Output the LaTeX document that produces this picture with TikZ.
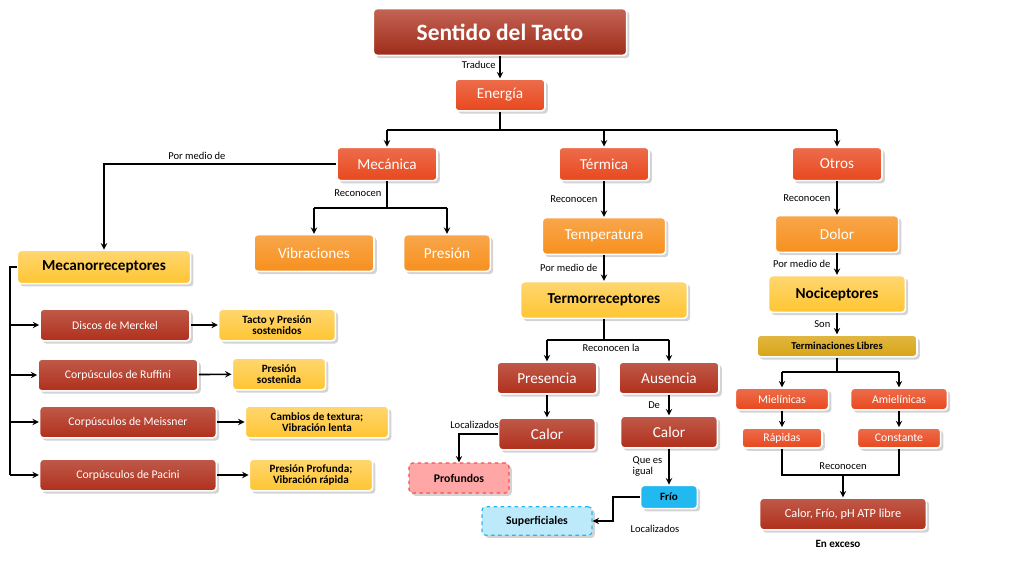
\documentclass[tikz,border=0pt]{standalone}
\usepackage{fontspec}
\setmainfont{Carlito}
\usetikzlibrary{shapes,arrows,calc,positioning,shadows}
\definecolor{rojo}{HTML}{B0301C}
\definecolor{rojoc}{HTML}{E8481E}
\definecolor{naranja}{HTML}{F7901E}
\definecolor{amarillo}{HTML}{FFC532}
\definecolor{oro}{HTML}{D9A514}
\definecolor{celeste}{HTML}{22B8F0}
\tikzset{box/.style={draw=white, rounded corners=3pt, drop shadow={opacity=0.35}, inner sep=2pt, align=center}}
\tikzstyle{rj}=[box, top color=rojo!80, bottom color=rojo, text=white, font=\fontsize{10}{11}\selectfont]
\tikzstyle{rc}=[box, top color=rojoc!80, bottom color=rojoc, text=white, font=\fontsize{13}{14}\selectfont]
\tikzstyle{na}=[box, top color=naranja!80, bottom color=naranja, text=white, font=\fontsize{13}{14}\selectfont]
\tikzstyle{am}=[box, top color=amarillo!70, bottom color=amarillo, font=\bfseries\fontsize{13}{14}\selectfont]
\tikzstyle{ama}=[box, top color=amarillo!70, bottom color=amarillo, font=\bfseries\fontsize{9.5}{10}\selectfont]
\tikzstyle{lbl}=[font=\fontsize{9}{10}\selectfont, inner sep=1pt]
\begin{document}
\begin{tikzpicture}[x=0.3mm, y=-0.3mm, >=stealth, line width=1.4pt]
\useasboundingbox (0,0) rectangle (1024,576);
% cabecera
\node[box, top color=rojo!75, bottom color=rojo!90!black, text=white, font=\bfseries\fontsize{20}{22}\selectfont, minimum width=76mm, minimum height=14mm] (T) at (500,32) {Sentido del Tacto};
\node[rc, minimum width=27mm, minimum height=9.5mm] (E) at (500,95) {Energía};
\node[rc, minimum width=30mm, minimum height=10mm] (M) at (387,164) {Mecánica};
\node[rc, minimum width=27mm, minimum height=10mm] (Te) at (604,164) {Térmica};
\node[rc, minimum width=27mm, minimum height=10mm] (O) at (837,164) {Otros};
% mecanica
\node[na, minimum width=36mm, minimum height=11mm] (V) at (314,253) {Vibraciones};
\node[na, minimum width=26mm, minimum height=11mm] (P) at (447,253) {Presión};
\node[am, minimum width=52mm, minimum height=10mm] (MR) at (104,267) {Mecanorreceptores};
\node[rj, minimum width=45mm, minimum height=9.5mm] (D1) at (115,325) {Discos de Merckel};
\node[rj, minimum width=48mm, minimum height=9.5mm] (D2) at (118,375) {Corpúsculos de Ruffini};
\node[rj, minimum width=53mm, minimum height=9.5mm] (D3) at (128,422) {Corpúsculos de Meissner};
\node[rj, minimum width=53mm, minimum height=9.5mm] (D4) at (128,475) {Corpúsculos de Pacini};
\node[ama, minimum width=35mm, minimum height=9.5mm] (R1) at (277,325) {Tacto y Presión\\sostenidos};
\node[ama, minimum width=28mm, minimum height=9.5mm] (R2) at (279,374) {Presión\\sostenida};
\node[ama, minimum width=43mm, minimum height=9.5mm] (R3) at (317,422) {Cambios de textura;\\Vibración lenta};
\node[ama, minimum width=37mm, minimum height=9.5mm] (R4) at (311,475) {Presión Profunda;\\Vibración rápida};
% termica
\node[na, minimum width=37mm, minimum height=11mm] (Tp) at (604,236) {Temperatura};
\node[am, minimum width=50mm, minimum height=11mm] (TR) at (604,300) {Termorreceptores};
\node[rj, font=\fontsize{13}{14}\selectfont, minimum width=30mm, minimum height=9.5mm] (Pr) at (547,378) {Presencia};
\node[rj, font=\fontsize{13}{14}\selectfont, minimum width=30mm, minimum height=9.5mm] (Au) at (669,378) {Ausencia};
\node[rj, font=\fontsize{13}{14}\selectfont, minimum width=29mm, minimum height=9.5mm] (C1) at (547,434) {Calor};
\node[rj, font=\fontsize{13}{14}\selectfont, minimum width=29mm, minimum height=9.5mm] (C2) at (669,432) {Calor};
\node[box, fill=red!35, draw=red!70, dashed, line width=1pt, font=\bfseries\fontsize{10}{11}\selectfont, minimum width=30mm, minimum height=9mm] (Pf) at (459,478) {Profundos};
\node[box, fill=celeste, draw=white, font=\bfseries\fontsize{9.5}{10}\selectfont, minimum width=17mm, minimum height=7mm] (F) at (669,497) {Frío};
\node[box, fill=celeste!30, draw=celeste, dashed, line width=1pt, font=\bfseries\fontsize{10}{11}\selectfont, minimum width=33mm, minimum height=8.5mm] (Su) at (537,521) {Superficiales};
% otros
\node[na, minimum width=37mm, minimum height=11mm] (Do) at (837,234) {Dolor};
\node[am, minimum width=41mm, minimum height=11mm] (N) at (837,294) {Nociceptores};
\node[box, top color=oro!80, bottom color=oro, font=\bfseries\fontsize{9}{10}\selectfont, minimum width=48mm, minimum height=6.5mm] (TL) at (837,346) {Terminaciones Libres};
\node[rc, font=\fontsize{10}{11}\selectfont, minimum width=28mm, minimum height=6.5mm] (Mi) at (782,399) {Mielínicas};
\node[rc, font=\fontsize{10}{11}\selectfont, minimum width=29mm, minimum height=6.5mm] (Am) at (899,399) {Amielínicas};
\node[rc, font=\fontsize{10}{11}\selectfont, minimum width=24mm, minimum height=6mm] (Ra) at (782,438) {Rápidas};
\node[rc, font=\fontsize{10}{11}\selectfont, minimum width=25mm, minimum height=6mm] (Co) at (899,438) {Constante};
\node[rj, font=\fontsize{10.5}{11}\selectfont, minimum width=50mm, minimum height=9.5mm] (CF) at (843,514) {Calor, Frío, pH ATP libre};
\node[lbl, font=\bfseries\fontsize{9.5}{10}\selectfont] (Ex) at (838,544) {En exceso};

% conectores
\draw[->] (T) -- node[lbl, left=2pt, pos=0.4] {Traduce} (E);
\draw (E) -- (500,130) coordinate (b1);
\draw (M |- b1) -- (O |- b1);
\draw[->] (M |- b1) -- (M);
\draw[->] (Te |- b1) -- (Te);
\draw[->] (O |- b1) -- (O);
\draw[->] (M.west) -| node[lbl, pos=0.3, above=2pt] {Por medio de} (MR.north);
\draw (M) -- (387,208) coordinate (b2) node[lbl, pos=0.45, left=3pt] {Reconocen};
\draw (V |- b2) -- (P |- b2);
\draw[->] (V |- b2) -- (V);
\draw[->] (P |- b2) -- (P);
\draw (MR.west) -- (10,267) coordinate (s0) -- (10,475) coordinate (s1);
\foreach \d/\r in {D1/R1, D2/R2, D3/R3, D4/R4} {
  \draw[->] (s0 |- \d) -- (\d);
  \draw[->] (\d) -- (\r);
}
\draw[->] (Te) -- node[lbl, left=4pt] {Reconocen} (Tp);
\draw[->] (Tp) -- node[lbl, left=4pt] {Por medio de} (TR);
\draw (TR) -- (604,340) coordinate (b3) node[lbl, below right=2pt and -20pt] {Reconocen la};
\draw (Pr |- b3) -- (Au |- b3);
\draw[->] (Pr |- b3) -- (Pr);
\draw[->] (Au |- b3) -- (Au);
\draw[->] (Pr) -- (C1);
\draw[->] (Au) -- node[lbl, left=6pt] {De} (C2);
\draw[->] (C1.west) -| node[lbl, pos=0.3, above=3pt] {Localizados} (Pf.north);
\draw[->] (C2) -- node[lbl, left=4pt, align=left] {Que es\\igual} (F);
\draw[->] (F.west) -- (613,497) -- (613,521) -- node[lbl, pos=0.9, below=3pt] {} (Su.east);
\node[lbl] (Lz) at (655,529) {Localizados};
\draw[->] (O) -- node[lbl, left=4pt] {Reconocen} (Do);
\draw[->] (Do) -- node[lbl, left=4pt] {Por medio de} (N);
\draw[->] (N) -- node[lbl, left=4pt] {Son} (TL);
\draw (TL) -- (837,372) coordinate (b4);
\draw (Mi |- b4) -- (Am |- b4);
\draw[->] (Mi |- b4) -- (Mi);
\draw[->] (Am |- b4) -- (Am);
\draw[->] (Mi) -- (Ra);
\draw[->] (Am) -- (Co);
\draw (Ra) -- (782,475) -- (899,475) -- (Co);
\draw[->] (843,475) -- (CF);
\node[lbl] (Rc) at (843,466) {Reconocen};
\end{tikzpicture}
\end{document}
